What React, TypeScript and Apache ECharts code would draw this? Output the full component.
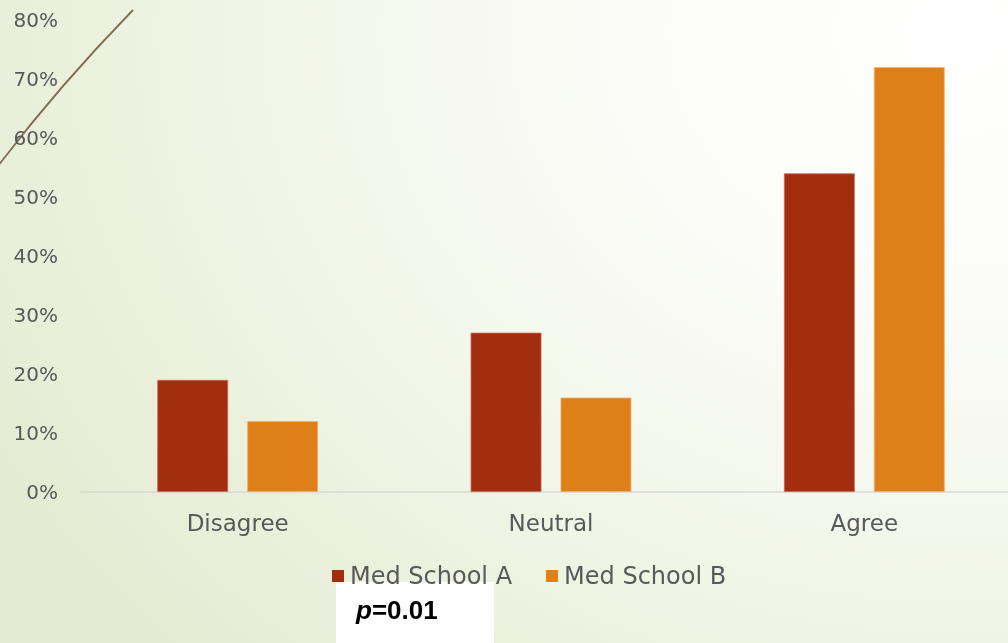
import React, { useEffect, useRef } from "react";
import * as echarts from "echarts";

const categories = ["Disagree", "Neutral", "Agree"];
const schoolA = [19, 27, 54];
const schoolB = [12, 16, 72];
const seriesNames = ["Med School A", "Med School B"];
const yTicks = [0, 10, 20, 30, 40, 50, 60, 70, 80];

export default function App() {
  const ref = useRef<HTMLDivElement>(null);
  useEffect(() => {
    const chart = echarts.init(ref.current!, null, { renderer: "svg" });
    const font = "DejaVu Sans";
    chart.setOption({
      animation: false,
      backgroundColor: "transparent",
      grid: { left: 81, width: 940, top: 20, bottom: 151, containLabel: false, outerBoundsMode: "none" },
      legend: {
        data: seriesNames,
        left: 332,
        top: 564,
        padding: 0,
        itemWidth: 12,
        itemHeight: 12,
        itemGap: 34,
        icon: "rect",
        itemStyle: { borderWidth: 0 },
        textStyle: { color: "#595959", fontSize: 24, fontFamily: font, padding: [0, 0, 0, 1] },
      },
      xAxis: {
        type: "category",
        data: categories,
        axisLine: { lineStyle: { color: "#d9d9d9", width: 1.5 } },
        axisTick: { show: false },
        axisLabel: { color: "#595959", fontSize: 23, fontFamily: font, margin: 19 },
      },
      yAxis: {
        type: "value",
        min: yTicks[0],
        max: yTicks[yTicks.length - 1],
        interval: 10,
        splitLine: { show: false },
        axisLine: { show: false },
        axisTick: { show: false },
        axisLabel: {
          color: "#595959",
          fontSize: 20,
          fontFamily: font,
          margin: 23,
          formatter: (v: number) => v + "%",
        },
      },
      series: [
        {
          name: seriesNames[0],
          type: "bar",
          data: schoolA,
          barWidth: "22.6%",
          barGap: "27%",
          itemStyle: { color: "#a22e0f", borderColor: "#c2684f", borderWidth: 0.8 },
        },
        {
          name: seriesNames[1],
          type: "bar",
          data: schoolB,
          barWidth: "22.6%",
          barGap: "27%",
          itemStyle: { color: "#de7f18", borderColor: "#eeb070", borderWidth: 0.8 },
        },
      ],
      graphic: [
        {
          type: "bezierCurve",
          shape: { x1: 133, y1: 10, cpx1: 58, cpy1: 87, x2: -2, y2: 166 },
          style: { stroke: "#7b6e55", lineWidth: 1.8, fill: null },
          silent: true,
        },
        {
          type: "rect",
          shape: { x: 336, y: 582, width: 158, height: 61 },
          style: { fill: "#ffffff" },
          silent: true,
        },
        {
          type: "text",
          x: 356,
          y: 610,
          style: {
            text: "{i|p}{b|=0.01}",
            verticalAlign: "middle",
            rich: {
              i: { fontFamily: "Liberation Sans", fontWeight: "bold", fontStyle: "italic", fontSize: 26, fill: "#000" },
              b: { fontFamily: "Liberation Sans", fontWeight: "bold", fontSize: 26, fill: "#000" },
            },
          },
          silent: true,
        },
      ],
    });
    return () => chart.dispose();
  }, []);
  return (
    <div
      style={{
        position: "fixed",
        left: 0,
        top: 0,
        width: 1008,
        height: 643,
        overflow: "hidden",
        background:
          "radial-gradient(ellipse 1100px 900px at 95% 5%, #ffffff 0%, #fbfcf8 30%, #f1f5e6 65%, #e4ebd2 100%)",
      }}
    >
      <div ref={ref} style={{ width: 1030, height: 643 }} />
    </div>
  );
}
